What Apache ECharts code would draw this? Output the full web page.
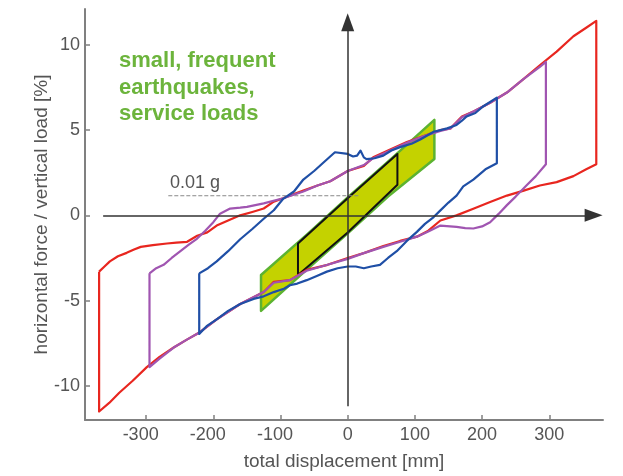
<!DOCTYPE html>
<html style="height: 100%">
<head>
    <meta charset="utf-8">
    <title>Hysteresis loops</title>
</head>
<body style="margin: 0; background: #fff">
<div id="container" style="width: 623px; height: 476px"></div>

<script src="https://cdn.jsdelivr.net/npm/echarts@6.0.0/dist/echarts.min.js" type="text/javascript"></script>

<script type="text/javascript">

    // tick labels
    var xTicks = [-300, -200, -100, 0, 100, 200, 300];
    var yTicks = [-10, -5, 0, 5, 10];

    // loops: [displacement mm, force %]
    var redLoop = [
        [-370, -3.3], [-362, -3.0], [-354, -2.7], [-342, -2.4], [-329, -2.2], [-318, -2.0], [-308, -1.85],
        [-290, -1.75], [-269, -1.65], [-255, -1.6], [-239, -1.55], [-224, -1.2], [-209, -1.0], [-195, -0.6],
        [-178, -0.3], [-160, 0], [-142, 0.2], [-125, 0.4], [-110, 0.8], [-96, 1.0], [-80, 1.25], [-66, 1.45],
        [-45, 1.75], [-26, 2.0], [0, 2.6], [24, 2.9], [38, 3.4], [60, 3.8], [88, 4.3], [110, 4.6], [138, 5.0],
        [153, 5.1], [170, 5.8], [188, 6.1], [212, 6.6], [237, 7.2], [262, 8.0], [286, 8.8], [311, 9.6],
        [336, 10.5], [355, 11.0], [370, 11.4],
        [370, 3.0], [355, 2.7], [336, 2.3], [311, 1.95], [286, 1.75], [262, 1.45], [237, 1.16], [212, 0.78],
        [187, 0.39], [162, 0], [138, -0.3], [120, -0.9], [103, -1.25], [78, -1.5], [53, -1.8], [25, -2.2],
        [0, -2.5], [-30, -2.9], [-61, -3.2], [-86, -3.8], [-110, -3.9], [-125, -4.5], [-160, -5.2],
        [-195, -6.1], [-222, -6.9], [-240, -7.3], [-259, -7.75], [-280, -8.3], [-299, -8.9], [-320, -9.7],
        [-340, -10.4], [-355, -11.0], [-370, -11.5], [-370, -3.3]
    ];
    var purpleLoop = [
        [-295, -3.4], [-285, -3.1], [-274, -2.9], [-262, -2.5], [-249, -2.1], [-236, -1.7], [-224, -1.36],
        [-212, -0.9], [-200, -0.4], [-190, 0.1], [-175, 0.4], [-160, 0.45], [-150, 0.5], [-125, 0.7],
        [-96, 1.0], [-66, 1.4], [-45, 1.75], [-26, 2.0], [0, 2.6], [24, 2.95], [38, 3.35], [60, 3.75],
        [88, 4.25], [110, 4.6], [138, 4.95], [153, 5.1], [170, 5.75], [188, 6.1], [212, 6.6], [237, 7.2],
        [262, 8.0], [286, 8.7], [295, 9.0],
        [295, 3.0], [280, 2.3], [266, 1.75], [250, 1.1], [237, 0.6], [225, 0.1], [212, -0.4], [200, -0.65],
        [187, -0.77], [175, -0.75], [162, -0.68], [138, -0.6], [120, -0.95], [103, -1.25], [78, -1.55],
        [53, -1.85], [25, -2.2], [0, -2.55], [-30, -2.9], [-61, -3.25], [-86, -3.8], [-110, -3.95],
        [-125, -4.5], [-160, -5.2], [-195, -6.1], [-222, -6.9], [-240, -7.3], [-259, -7.75], [-280, -8.4],
        [-295, -8.9], [-295, -3.4]
    ];
    var blueLoop = [
        [-221, -3.4], [-208, -3.1], [-195, -2.7], [-178, -2.1], [-160, -1.4], [-142, -0.8], [-125, -0.2],
        [-110, 0.3], [-96, 0.97], [-80, 1.4], [-66, 2.1], [-50, 2.6], [-36, 3.1], [-19, 3.7], [0, 3.6],
        [8, 3.45], [14, 3.5], [19, 3.8], [24, 3.4], [28, 3.3], [40, 3.35], [53, 3.5], [65, 3.8], [78, 4.0],
        [95, 4.2], [108, 4.45], [128, 4.9], [138, 5.0], [148, 5.1], [162, 5.3], [170, 5.55], [177, 5.8],
        [190, 6.0], [202, 6.4], [222, 6.9],
        [222, 3.06], [205, 2.7], [187, 2.1], [172, 1.7], [162, 1.16], [150, 0.75], [138, 0.29], [128, -0.1],
        [115, -0.5], [103, -0.97], [88, -1.5], [73, -2.1], [60, -2.5], [48, -2.9], [35, -3.0], [24, -3.1],
        [12, -3.0], [0, -3.0], [-15, -3.1], [-31, -3.3], [-46, -3.55], [-61, -3.8], [-75, -4.0], [-86, -4.1],
        [-95, -4.3], [-110, -4.5], [-125, -4.75], [-140, -4.9], [-160, -5.2], [-178, -5.6], [-195, -6.1],
        [-210, -6.5], [-221, -6.95], [-221, -3.4]
    ];
    var greenBand = [
        [-129, -3.5], [-60, -1.1], [0, 1.05], [70, 3.5], [129, 5.6],
        [129, 3.3], [60, 1.1], [0, -1.05], [-70, -3.5], [-129, -5.6]
    ];
    var blackBand = [
        [-74, -1.65], [0, 1.0], [74, 3.6],
        [74, 1.8], [0, -1.0], [-74, -3.5]
    ];

    // reference level and the cross axes
    var gLine = [[-267, 1.15], [18, 1.15]];
    var crossX = [[-364, 0], [366, 0]];
    var crossY = [[0, -11.2], [0, 11.33]];

    var dom = document.getElementById("container");
    var myChart = echarts.init(dom);

    var font = '"Liberation Sans", Arial, sans-serif';

    function polygonSeries(points, fill, stroke, width) {
        return {
            type: 'custom',
            silent: true,
            data: [[0, 0]],
            renderItem: function (params, api) {
                var pts = points.map(function (p) {
                    return api.coord(p);
                });
                return {
                    type: 'polygon',
                    shape: {points: pts},
                    style: {fill: fill, stroke: stroke, lineWidth: width, lineJoin: 'round'}
                };
            }
        };
    }

    function loopSeries(points, color) {
        return {
            type: 'line',
            data: points,
            showSymbol: false,
            symbol: 'none',
            silent: true,
            lineStyle: {color: color, width: 2.2, join: 'round'}
        };
    }

    function arrowLine(pts) {
        return [
            {coord: pts[0], symbol: 'none'},
            {coord: pts[1], symbol: 'triangle', symbolSize: [13, 18]}
        ];
    }

    var option = {
        animation: false,
        grid: {left: 85, right: 20, top: 9, bottom: 53},
        xAxis: {
            type: 'value',
            min: -391,
            max: 380,
            name: 'total displacement [mm]',
            nameLocation: 'middle',
            nameGap: 32,
            nameMoveOverlap: false,
            nameTextStyle: {fontSize: 19, color: '#555', fontFamily: font},
            axisLine: {onZero: false, lineStyle: {color: '#808080', width: 2}},
            axisTick: {inside: true, length: 5, customValues: xTicks, lineStyle: {color: '#808080', width: 1.5}},
            axisLabel: {
                customValues: xTicks,
                fontSize: 18,
                color: '#555',
                margin: 6,
                fontFamily: font,
                formatter: function (v) {
                    return v < 0 ? v + '{pad|}' : '' + v;
                },
                rich: {pad: {width: 11}}
            },
            splitLine: {show: false}
        },
        yAxis: {
            type: 'value',
            min: -12,
            max: 12.1,
            name: 'horizontal force / vertical load [%]',
            nameLocation: 'middle',
            nameGap: 34,
            nameMoveOverlap: false,
            nameTextStyle: {fontSize: 19, color: '#555', fontFamily: font},
            axisLine: {show: true, onZero: false, lineStyle: {color: '#808080', width: 2}},
            axisTick: {show: true, inside: true, length: 5, customValues: yTicks, lineStyle: {color: '#808080', width: 1.5}},
            axisLabel: {customValues: yTicks, fontSize: 18, color: '#555', margin: 5, fontFamily: font},
            splitLine: {show: false}
        },
        graphic: [
            {
                type: 'text',
                left: 119,
                top: 48,
                silent: true,
                style: {
                    text: 'small, frequent\nearthquakes,\nservice loads',
                    fill: '#6cb43c',
                    font: 'bold 22px ' + font,
                    lineHeight: 26.5
                }
            },
            {
                type: 'text',
                left: 170,
                top: 174,
                silent: true,
                style: {text: '0.01 g', fill: '#555', font: '18px ' + font}
            }
        ],
        series: [
            polygonSeries(greenBand, '#c4d200', '#5cb331', 2.5),
            polygonSeries(blackBand, '#c4d200', '#111', 2),
            {
                type: 'line',
                data: gLine,
                showSymbol: false,
                symbol: 'none',
                silent: true,
                lineStyle: {color: '#888', width: 1, type: [4, 2]},
                markLine: {
                    silent: true,
                    symbol: ['none', 'triangle'],
                    symbolSize: 16,
                    label: {show: false},
                    lineStyle: {color: '#333', width: 1.5, type: 'solid'},
                    itemStyle: {color: '#111'},
                    data: [arrowLine(crossX), arrowLine(crossY)]
                }
            },
            loopSeries(redLoop, '#e8261f'),
            loopSeries(purpleLoop, '#a055b1'),
            loopSeries(blueLoop, '#1f4fa6')
        ]
    };

    if (option && typeof option === "object") {
        myChart.setOption(option, true);
    }
</script>
</body>
</html>
